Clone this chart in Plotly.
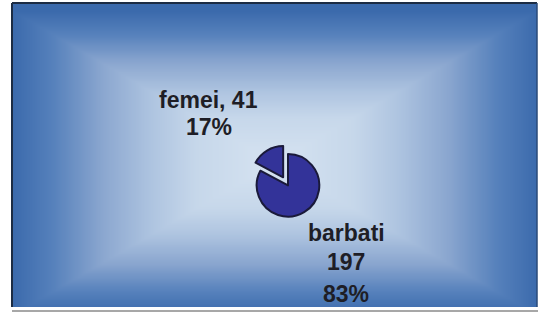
import numpy as np
import plotly.graph_objects as go

labels = ["barbati", "femei"]
values = [197, 41]
percents = ["83%", "17%"]

W, H = 538, 313

fig = go.Figure()

# background rectangular "from centre" gradient (styling only)
nx, ny = 241, 141
gx = np.linspace(-1, 1, nx)
gy = np.linspace(-1, 1, ny)
GX, GY = np.meshgrid(gx, gy)
Z = np.maximum(np.abs(GX), np.abs(GY + 0.05))
fig.add_trace(go.Heatmap(
    z=Z, x=gx, y=gy, zsmooth="best", showscale=False, hoverinfo="skip",
    colorscale=[[0, "#d6e3f1"], [0.3, "#c6d7ea"], [0.47, "#aec4e0"],
                [0.66, "#8aa6cf"], [0.85, "#5580bb"], [1, "#3b6aac"]],
    zmin=0, zmax=1, xaxis="x", yaxis="y"))

cx, cy, r, pull = 288, 185.4, 31.3, 0.3
half = r * (1 + pull)
fig.add_trace(go.Pie(
    labels=labels, values=values, sort=False, direction="clockwise", rotation=0,
    pull=[0, pull], textinfo="none", hoverinfo="skip", showlegend=False,
    marker=dict(colors=["#333399", "#333399"], line=dict(color="#1a1a3a", width=2)),
    domain=dict(x=[(cx - half) / W, (cx + half) / W],
                y=[(H - cy - half) / H, (H - cy + half) / H])))

font = dict(family="Liberation Sans, Arial, sans-serif", size=23, color="#1e1e26")
texts = [
    (f"<b>{labels[1]}, {values[1]}</b>", 208, 100),
    (f"<b>{percents[1]}</b>", 209, 127),
    (f"<b>{labels[0]}</b>", 346, 233),
    (f"<b>{values[0]}</b>", 346, 262),
    (f"<b>{percents[0]}</b>", 346, 294),
]
ann = [dict(text=t, x=x / W, y=1 - y / H, xref="paper", yref="paper",
            xanchor="center", yanchor="middle", showarrow=False, font=font)
       for t, x, y in texts]

x0, x1, y0, y1 = 12, 537, 3, 307
shapes = [
    dict(type="line", xref="paper", yref="paper", x0=x0 / W, x1=x0 / W,
         y0=1 - y1 / H, y1=1 - y0 / H, line=dict(color="#1c2c44", width=2)),
    dict(type="line", xref="paper", yref="paper", x0=x0 / W, x1=x1 / W,
         y0=1 - y0 / H, y1=1 - y0 / H, line=dict(color="#1c2c44", width=2)),
    dict(type="line", xref="paper", yref="paper", x0=x1 / W, x1=x1 / W,
         y0=1 - y1 / H, y1=1 - y0 / H, line=dict(color="#2a4a78", width=1.5)),
    dict(type="line", xref="paper", yref="paper", x0=x0 / W, x1=1,
         y0=1 - 311 / H, y1=1 - 311 / H, line=dict(color="#8a8a8a", width=1.5)),
]

fig.update_layout(
    width=W, height=H, margin=dict(l=0, r=0, t=0, b=0),
    paper_bgcolor="white", plot_bgcolor="white",
    xaxis=dict(domain=[x0 / W, x1 / W], visible=False, range=[-1, 1], fixedrange=True),
    yaxis=dict(domain=[1 - y1 / H, 1 - y0 / H], visible=False, range=[-1, 1], fixedrange=True),
    annotations=ann, shapes=shapes,
)

fig.write_html("out.html", config={"displayModeBar": False})

# remove default page margin so the figure sits at the window's top-left
with open("out.html", encoding="utf-8") as f:
    html = f.read()
html = html.replace("<head>", "<head><style>html,body{margin:0;padding:0;overflow:hidden}</style>", 1)
with open("out.html", "w", encoding="utf-8") as f:
    f.write(html)
